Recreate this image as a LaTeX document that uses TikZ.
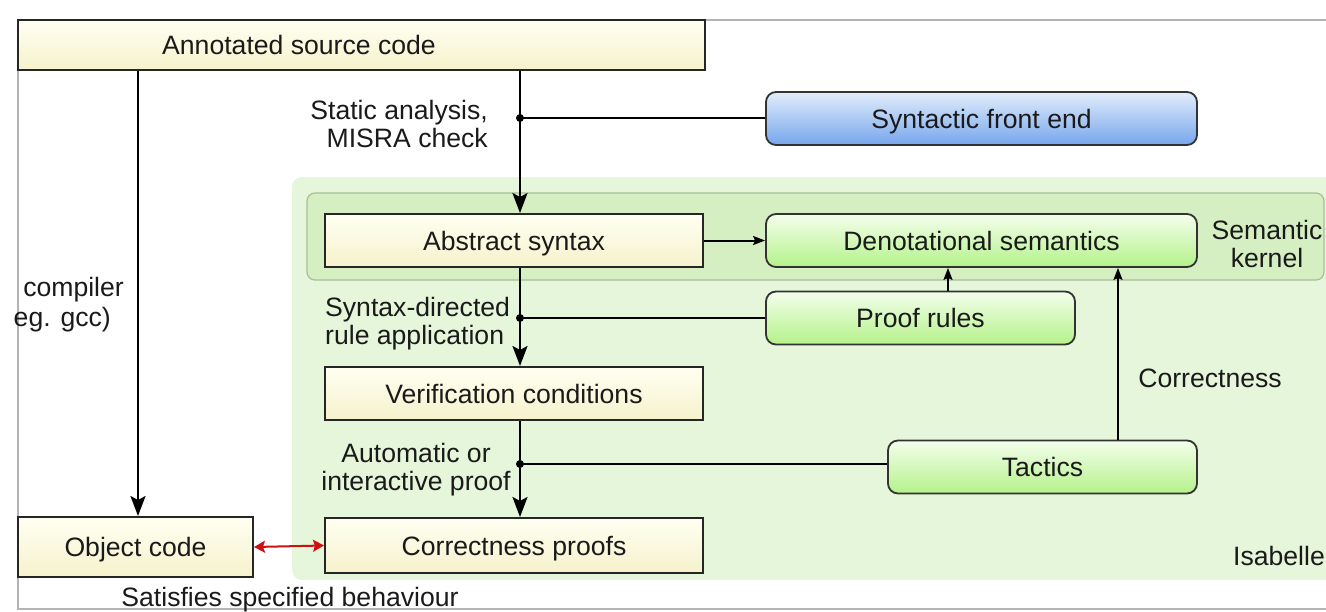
\documentclass[tikz,border=0pt]{standalone}
\usepackage{fontspec}
\setmainfont{Liberation Sans}
\usetikzlibrary{arrows.meta}
\definecolor{ytop}{HTML}{FFFFF2}
\definecolor{ybot}{HTML}{F6F2CC}
\definecolor{gtop}{HTML}{F4FEEC}
\definecolor{gbot}{HTML}{B4F28A}
\definecolor{btop}{HTML}{E2EDFB}
\definecolor{bbot}{HTML}{76A6EC}
\definecolor{isa}{HTML}{E5F6DA}
\definecolor{kern}{HTML}{D5EFC3}
\definecolor{kernb}{HTML}{A9BC9C}
\definecolor{frame}{HTML}{B4B4B4}
\definecolor{txt}{HTML}{1A1A1A}
\definecolor{darr}{HTML}{D01010}
\begin{document}
\begin{tikzpicture}[x=1pt,y=-1pt,
  font=\fontsize{26.6}{28}\selectfont, text=txt,
  ybox/.style={draw=black!85, line width=2pt, top color=ytop, bottom color=ybot, minimum height=53pt, inner sep=0pt, text height=19pt, text depth=0pt},
  gbox/.style={draw=black!80, line width=1.8pt, rounded corners=10pt, top color=gtop, bottom color=gbot, minimum height=53pt, inner sep=0pt, text height=19pt, text depth=0pt},
  bbox/.style={gbox, top color=btop, bottom color=bbot},
  lbl/.style={inner sep=0pt},
  conn/.style={line width=2.4pt, black},
  arr/.style={conn, -{Stealth[length=20pt,width=15pt,inset=4pt]}},
  arrs/.style={line width=2pt, black, -{Stealth[length=12pt,width=9pt,inset=2pt]}},
  redarr/.style={line width=2pt, darr, {Stealth[length=11pt,width=12pt,inset=2pt]}-{Stealth[length=11pt,width=12pt,inset=2pt]}},
  dot/.style={circle, fill=black, inner sep=0pt, minimum size=8pt}
]
\useasboundingbox (0,0) rectangle (1326,611);
% frame
\draw[frame, line width=1.5pt] (1340,20) -- (18,20) -- (18,609) -- (1340,609);
% Isabelle region
\fill[isa, rounded corners=10pt] (292,177) rectangle (1360,580);
% semantic kernel region
\draw[kernb, fill=kern, line width=1.2pt, rounded corners=8pt] (307,193) rectangle (1324,280);

% boxes
\node[ybox, minimum width=687pt, minimum height=50pt] (src) at (361.5,45) {};
\node[lbl, text height=19pt, text depth=0pt] (srct) at (299,45) {Annotated source code};
\node[ybox, minimum width=235pt, minimum height=60pt] (obj) at (135.5,547) {Object code};
\node[ybox, minimum width=378pt] (abs) at (514,240.5) {Abstract syntax};
\node[ybox, minimum width=378pt] (vc) at (514,393.5) {Verification conditions};
\node[ybox, minimum width=378pt, minimum height=55pt] (cp) at (514,545.5) {Correctness proofs};
\node[bbox, minimum width=431pt] (sfe) at (981.5,118.5) {Syntactic front end};
\node[gbox, minimum width=431pt] (den) at (981.5,240.5) {Denotational semantics};
\node[gbox, minimum width=309pt] (pr) at (920.5,318) {Proof rules};
\node[gbox, minimum width=309pt] (tac) at (1042.5,467) {Tactics};

% connectors
\coordinate (cx) at (138,0);
\coordinate (ax) at (520,0);
\coordinate (px) at (948,0);
\coordinate (tx) at (1118,0);
\draw[arr] (src.south -| cx) -- (obj.north -| cx);
\draw[arr] (src.south -| ax) -- (abs.north -| ax);
\node[dot] (d1) at (520,118) {};
\draw[conn] (d1.center) -- (sfe.west |- d1);
\draw[arrs] (abs.east) -- (den.west);
\draw[arr] (abs.south -| ax) -- (vc.north -| ax);
\node[dot] (d2) at (520,318) {};
\draw[conn] (d2.center) -- (pr.west);
\draw[arr] (vc.south -| ax) -- (cp.north -| ax);
\node[dot] (d3) at (520,464) {};
\draw[conn] (d3.center) -- (tac.west |- d3);
\draw[arrs] (pr.north -| px) -- (den.south -| px);
\draw[arrs] (tac.north -| tx) -- (den.south -| tx);
\draw[redarr] (obj.east) -- (cp.west);

% labels
\node[lbl, align=right, anchor=east] (l1) at (488,124) {Static analysis,\\MISRA check};
\node[lbl, align=left, anchor=west] (l2) at (325,324) {Syntax-directed\\rule application};
\node[lbl, align=center] (l3) at (416,470) {Automatic or\\interactive proof};
\node[lbl, anchor=east] (l4) at (124,290) {compiler};
\node[lbl, anchor=east] (l5) at (111,320) {eg. gcc)};
\node[lbl, align=center] (l6) at (1267,244) {Semantic\\kernel};
\node[lbl] (l7) at (1210,378) {Correctness};
\node[lbl, anchor=east] (l8) at (1325,556) {Isabelle};
\node[lbl] (l9) at (290,600) {Satisfies specified behaviour};
\end{tikzpicture}
\end{document}
